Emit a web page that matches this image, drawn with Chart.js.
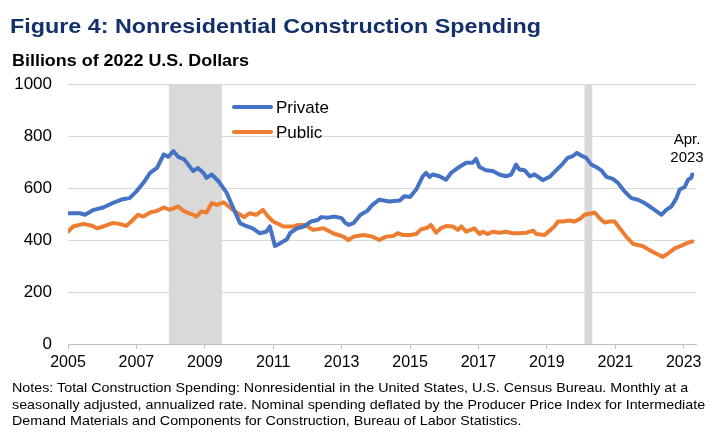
<!DOCTYPE html>
<html><head><meta charset="utf-8">
<script src="https://cdn.jsdelivr.net/npm/chart.js@4.4.0/dist/chart.umd.min.js"></script>
<style>
html,body{margin:0;padding:0;background:#fff;}
body{width:719px;height:436px;position:relative;overflow:hidden;font-family:"Liberation Sans",Arial,sans-serif;}
#c{position:absolute;left:0;top:0;}
.t{position:absolute;white-space:nowrap;line-height:1;transform-origin:0 0;}
#title{left:10px;top:15px;font-size:21px;font-weight:bold;color:#13306b;transform:scaleX(1.11);}
#sub{left:12px;top:53px;font-size:16px;font-weight:bold;color:#000;transform:scaleX(1.12);}
.note{left:12px;font-size:13px;color:#000;transform:scaleX(1.1);}
.leg{font-size:17px;color:#000;}
.sw{position:absolute;height:4px;border-radius:2px;width:41px;left:232px;}
.ann{font-size:15px;color:#000;width:50px;text-align:center;left:662px;}
</style></head>
<body>
<canvas id="c" width="719" height="436"></canvas>
<div class="t" id="title">Figure 4: Nonresidential Construction Spending</div>
<div class="t" id="sub">Billions of 2022 U.S. Dollars</div>
<div class="sw" style="top:105px;background:#4472c4"></div>
<div class="t leg" style="left:276px;top:99px">Private</div>
<div class="sw" style="top:130px;background:#ed7d31"></div>
<div class="t leg" style="left:276px;top:124px">Public</div>
<div class="t ann" style="top:131px">Apr.</div>
<div class="t ann" style="top:149px">2023</div>
<div class="t note" style="top:381px">Notes: Total Construction Spending: Nonresidential in the United States, U.S. Census Bureau. Monthly at a</div>
<div class="t note" style="top:398px">seasonally adjusted, annualized rate. Nominal spending deflated by the Producer Price Index for Intermediate</div>
<div class="t note" style="top:414px">Demand Materials and Components for Construction, Bureau of Labor Statistics.</div>
<script>
const xTickYears = [2005,2007,2009,2011,2013,2015,2017,2019,2021,2023];
const yTickValues = [0,200,400,600,800,1000];
const recessionStarts = [2007.95, 2020.1];
const recessionEnds = [2009.5, 2020.33];

const privateDates = [2005.0,2005.35,2005.5,2005.75,2006.03,2006.3,2006.6,2006.8,2007.0,2007.2,2007.4,2007.6,2007.8,2007.93,2008.08,2008.22,2008.4,2008.66,2008.8,2008.96,2009.05,2009.2,2009.4,2009.64,2009.83,2010.03,2010.2,2010.4,2010.6,2010.8,2010.9,2011.05,2011.2,2011.4,2011.5,2011.7,2011.9,2012.1,2012.3,2012.4,2012.6,2012.8,2013.0,2013.1,2013.2,2013.35,2013.55,2013.75,2013.9,2014.1,2014.4,2014.7,2014.83,2015.0,2015.18,2015.37,2015.47,2015.57,2015.66,2015.86,2016.05,2016.2,2016.44,2016.64,2016.83,2016.93,2017.03,2017.22,2017.42,2017.61,2017.8,2017.96,2018.1,2018.2,2018.35,2018.5,2018.64,2018.79,2018.88,2019.08,2019.27,2019.47,2019.61,2019.76,2019.88,2020.0,2020.15,2020.3,2020.44,2020.59,2020.74,2020.93,2021.08,2021.27,2021.47,2021.66,2021.86,2022.05,2022.25,2022.35,2022.49,2022.64,2022.79,2022.88,2023.03,2023.13,2023.22,2023.25];
const privateValues = [503,503,497,516,525,542,557,561,587,619,658,677,729,720,742,720,710,665,677,658,639,652,626,581,523,465,454,445,426,432,452,377,387,403,428,445,452,471,477,488,486,490,484,467,458,465,497,512,535,555,548,552,568,565,594,645,658,643,652,645,632,658,681,697,697,712,681,668,665,652,645,652,690,671,668,645,652,639,630,643,668,694,716,723,735,725,716,690,681,668,643,635,619,587,561,555,542,525,506,497,516,529,561,594,604,632,639,652];

const publicDates = [2005.0,2005.15,2005.45,2005.7,2005.85,2006.03,2006.3,2006.5,2006.7,2006.85,2007.05,2007.2,2007.4,2007.6,2007.8,2007.98,2008.22,2008.4,2008.66,2008.75,2008.9,2009.05,2009.2,2009.35,2009.55,2009.75,2009.93,2010.15,2010.3,2010.5,2010.7,2010.85,2011.0,2011.3,2011.6,2011.73,2011.93,2012.17,2012.47,2012.75,2013.05,2013.2,2013.35,2013.65,2013.9,2014.1,2014.3,2014.5,2014.64,2014.8,2015.0,2015.18,2015.32,2015.52,2015.61,2015.76,2015.9,2016.05,2016.25,2016.4,2016.5,2016.64,2016.88,2017.03,2017.13,2017.27,2017.42,2017.61,2017.8,2018.0,2018.2,2018.4,2018.6,2018.69,2018.93,2019.08,2019.22,2019.32,2019.47,2019.66,2019.8,2019.96,2020.1,2020.25,2020.4,2020.54,2020.69,2020.83,2020.98,2021.13,2021.32,2021.52,2021.66,2021.8,2022.0,2022.19,2022.39,2022.54,2022.74,2022.93,2023.08,2023.22,2023.25];
const publicValues = [432,452,462,455,445,452,465,462,454,471,497,490,506,512,525,516,529,510,497,490,510,506,542,535,545,523,506,488,503,497,516,490,471,452,452,458,458,439,445,426,413,400,413,419,413,400,413,415,426,419,419,423,441,448,458,428,445,454,452,439,452,432,445,423,432,423,432,428,432,426,426,428,436,423,419,436,452,471,471,475,471,480,497,501,506,484,467,471,471,445,413,385,381,377,361,348,335,348,368,378,387,394,394];

const toXY = (d, v) => d.map((x, i) => ({x: x, y: v[i]}));

const bandsPlugin = {
  id: 'bands',
  beforeDatasetsDraw(chart) {
    const {ctx, chartArea: {top, bottom}, scales: {x}} = chart;
    ctx.save();
    ctx.fillStyle = '#d9d9d9';
    recessionStarts.forEach((s, i) => {
      const x0 = x.getPixelForValue(s), x1 = x.getPixelForValue(recessionEnds[i]);
      ctx.fillRect(x0, top, x1 - x0, bottom - top);
    });
    ctx.restore();
  }
};

Chart.defaults.font.family = '"Liberation Sans", Arial, sans-serif';
Chart.defaults.color = '#000';

new Chart(document.getElementById('c'), {
  type: 'line',
  data: {
    datasets: [
      {label: 'Private', data: toXY(privateDates, privateValues), borderColor: '#4472c4', borderWidth: 4, pointRadius: 0, tension: 0, borderJoinStyle: 'round', borderCapStyle: 'round'},
      {label: 'Public', data: toXY(publicDates, publicValues), borderColor: '#ed7d31', borderWidth: 4, pointRadius: 0, tension: 0, borderJoinStyle: 'round', borderCapStyle: 'round'}
    ]
  },
  options: {
    responsive: false,
    animation: false,
    events: [],
    layout: {padding: {left: 0, top: 84, right: 23, bottom: 62}},
    plugins: {legend: {display: false}, tooltip: {enabled: false}},
    scales: {
      x: {
        type: 'linear', min: 2005, max: 2023.36,
        afterBuildTicks: (s) => { s.ticks = xTickYears.map(v => ({value: v})); },
        afterFit: (s) => { s.height = 30; },
        ticks: {font: {size: 16}, padding: 4, maxRotation: 0, autoSkip: false, callback: (v) => String(v)},
        grid: {drawOnChartArea: false, drawTicks: true, tickLength: 5, color: '#bfbfbf', lineWidth: 1},
        border: {display: true, color: '#bfbfbf', width: 1}
      },
      y: {
        min: 0, max: 1000,
        afterBuildTicks: (s) => { s.ticks = yTickValues.map(v => ({value: v})); },
        afterFit: (s) => { s.width = 68; },
        ticks: {font: {size: 17}, padding: 16, callback: (v) => String(v)},
        grid: {color: '#d9d9d9', lineWidth: 1, drawTicks: false},
        border: {display: false}
      }
    }
  },
  plugins: [bandsPlugin]
});
</script>
</body></html>
